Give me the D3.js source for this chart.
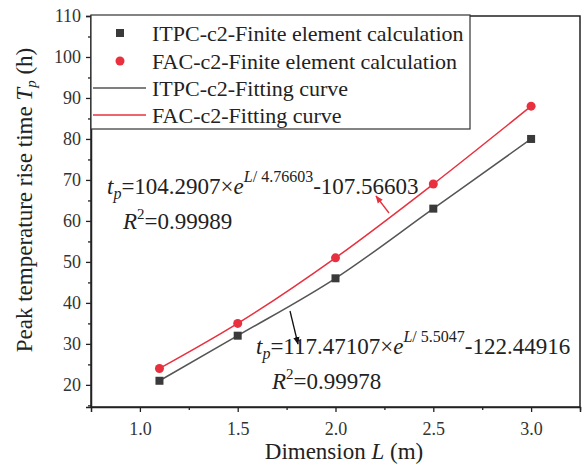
<!DOCTYPE html>
<html>
<head>
<meta charset="utf-8">
<script src="https://cdn.jsdelivr.net/npm/d3@7"></script>
<style>
  body { margin: 0; background: #fff; }
  text { font-family: "Liberation Serif", "DejaVu Serif", serif; }
</style>
</head>
<body>
<div id="chart"></div>
<script>
// data
const dims = [1.1, 1.5, 2.0, 2.5, 3.0];
const itpcFem = [21, 32, 46, 63, 80];
const facFem = [24, 35, 51, 69, 88];
const xTicks = [1.0, 1.5, 2.0, 2.5, 3.0];
const yTicks = [20, 30, 40, 50, 60, 70, 80, 90, 100, 110];
const legendLabels = [
  "ITPC-c2-Finite element calculation",
  "FAC-c2-Finite element calculation",
  "ITPC-c2-Fitting curve",
  "FAC-c2-Fitting curve"
];

const width = 585, height = 467;
const margin = { top: 16, right: 5, bottom: 60, left: 91 };
const grey = "#3a3a3a", red = "#e8303f";

const svg = d3.select("#chart").append("svg")
  .attr("width", width).attr("height", height);

const x = d3.scaleLinear().domain([0.75, 3.25]).range([margin.left, width - margin.right]);
const y = d3.scaleLinear().domain([14.6, 110]).range([height - margin.bottom, margin.top]);

const defs = svg.append("defs");
[["arrRed", red], ["arrBlack", "#111"]].forEach(([id, c]) => {
  defs.append("marker").attr("id", id)
    .attr("viewBox", "0 0 10 10").attr("refX", 9).attr("refY", 5)
    .attr("markerWidth", 6).attr("markerHeight", 6).attr("orient", "auto")
    .append("path").attr("d", "M0,1 L10,5 L0,9 Z").attr("fill", c);
});

// frame
svg.append("rect")
  .attr("x", x(0.75)).attr("y", y(110))
  .attr("width", x(3.25) - x(0.75)).attr("height", y(14.6) - y(110))
  .attr("fill", "none").attr("stroke", "#222").attr("stroke-width", 1.5);

// axes
svg.append("g").attr("transform", `translate(0,${y(14.6)})`)
  .call(d3.axisBottom(x).tickValues(xTicks).tickFormat(d3.format(".1f")).tickSizeOuter(0).tickSize(5).tickPadding(10));
svg.append("g").attr("transform", `translate(0,${y(14.6)})`)
  .call(d3.axisBottom(x).tickValues(d3.range(1.25, 3.3, 0.5)).tickFormat("").tickSizeOuter(0).tickSize(3))
  .select(".domain").remove();

svg.append("g").attr("transform", `translate(${x(0.75)},0)`)
  .call(d3.axisLeft(y).tickValues(yTicks).tickSizeOuter(0).tickSize(5).tickPadding(5));
svg.append("g").attr("transform", `translate(${x(0.75)},0)`)
  .call(d3.axisLeft(y).tickValues(d3.range(15, 110, 10)).tickFormat("").tickSizeOuter(0).tickSize(3))
  .select(".domain").remove();

svg.selectAll(".domain").attr("stroke", "#222").attr("stroke-width", 1.5);
svg.selectAll(".tick line").attr("stroke", "#222").attr("stroke-width", 1.3);
svg.selectAll(".tick text").attr("font-size", 18).attr("fill", "#333");

// axis titles
svg.append("text")
  .attr("x", 344).attr("y", 459)
  .attr("text-anchor", "middle").attr("font-size", 23).attr("fill", "#222")
  .html('Dimension <tspan font-style="italic">L</tspan> (m)');

svg.append("text")
  .attr("transform", "translate(32,200) rotate(-90)")
  .attr("text-anchor", "middle").attr("font-size", 23).attr("fill", "#222")
  .html('Peak temperature rise time <tspan font-style="italic">T</tspan><tspan font-style="italic" font-size="15" dy="4">p</tspan><tspan dy="-4"> (h)</tspan>');

// fitting curves
const line = d3.line().x((d, i) => x(dims[i])).y(d => y(d)).curve(d3.curveMonotoneX);
svg.append("path").datum(itpcFem).attr("d", line)
  .attr("fill", "none").attr("stroke", "#555").attr("stroke-width", 1.5);
svg.append("path").datum(facFem).attr("d", line)
  .attr("fill", "none").attr("stroke", red).attr("stroke-width", 1.5);

// markers
svg.selectAll(".sq").data(itpcFem).enter().append("rect")
  .attr("x", (d, i) => x(dims[i]) - 4).attr("y", d => y(d) - 4)
  .attr("width", 8).attr("height", 8).attr("fill", grey);
svg.selectAll(".ci").data(facFem).enter().append("circle")
  .attr("cx", (d, i) => x(dims[i])).attr("cy", d => y(d))
  .attr("r", 4.5).attr("fill", red);

// legend
const lg = svg.append("g");
lg.append("rect").attr("x", 91).attr("y", 15).attr("width", 379).attr("height", 114)
  .attr("fill", "#fff").attr("stroke", "#333").attr("stroke-width", 1.2);
const rowY = [33, 61, 88, 115];
legendLabels.forEach((t, i) => {
  lg.append("text").attr("x", 152).attr("y", rowY[i]).attr("dy", "0.35em")
    .attr("font-size", 22).attr("fill", "#222").text(t);
});
lg.append("rect").attr("x", 116).attr("y", rowY[0] - 4).attr("width", 8).attr("height", 8).attr("fill", grey);
lg.append("circle").attr("cx", 120).attr("cy", rowY[1]).attr("r", 4.5).attr("fill", red);
lg.append("line").attr("x1", 93).attr("x2", 146).attr("y1", rowY[2]).attr("y2", rowY[2])
  .attr("stroke", "#555").attr("stroke-width", 1.5);
lg.append("line").attr("x1", 93).attr("x2", 146).attr("y1", rowY[3]).attr("y2", rowY[3])
  .attr("stroke", red).attr("stroke-width", 1.5);

// equations
function equation(x0, y0, a, b, c, r2, rx) {
  const t = svg.append("text").attr("x", x0).attr("y", y0).attr("font-size", 23).attr("fill", "#222");
  t.append("tspan").attr("font-style", "italic").text("t");
  t.append("tspan").attr("font-style", "italic").attr("font-size", 16).attr("dy", 5).text("p");
  t.append("tspan").attr("dy", -5).text("=" + a + "×");
  t.append("tspan").attr("font-style", "italic").text("e");
  t.append("tspan").attr("font-size", 16).attr("dy", -12).html('<tspan font-style="italic">L</tspan>/ ' + b);
  t.append("tspan").attr("dy", 12).text("-" + c);
  const r = svg.append("text").attr("x", rx).attr("y", y0 + 35).attr("font-size", 23).attr("fill", "#222");
  r.append("tspan").attr("font-style", "italic").text("R");
  r.append("tspan").attr("font-size", 15).attr("dy", -10).text("2");
  r.append("tspan").attr("dy", 10).text("=" + r2);
}
equation(107, 194, "104.2907", "4.76603", "107.56603", "0.99989", 123);
equation(256, 354, "117.47107", "5.5047", "122.44916", "0.99978", 272);

// arrows
svg.append("line").attr("x1", 389).attr("y1", 213).attr("x2", 376).attr("y2", 196)
  .attr("stroke", red).attr("stroke-width", 1.3).attr("marker-end", "url(#arrRed)");
svg.append("line").attr("x1", 290).attr("y1", 311).attr("x2", 298).attr("y2", 344)
  .attr("stroke", "#111").attr("stroke-width", 1.3).attr("marker-end", "url(#arrBlack)");
</script>
</body>
</html>
